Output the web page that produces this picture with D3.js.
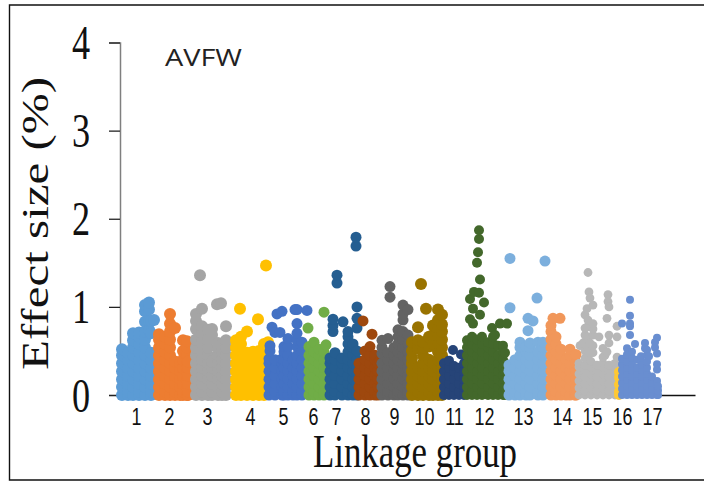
<!DOCTYPE html>
<html>
<head>
<meta charset="utf-8">
<script src="https://cdn.jsdelivr.net/npm/d3@7"></script>
<style>
  html, body { margin: 0; padding: 0; background: #fff; }
  svg { display: block; }
</style>
</head>
<body>
<div id="chart"></div>
<script>
// each row is [position along the genome, effect sizes at that position...]
var lg1 = [
  [2, 0,.09,.18,.27,.36,.45,.52],
  [8, 0,.04,.13,.22,.31,.40,.48],
  [13, 0,.09,.18,.27,.36,.45,.54,.62,.70],
  [19, 0,.04,.13,.22,.31,.40,.49,.58,.66,.71],
  [25, 0,.09,.18,.27,.36,.45,.54,.63,.72,.83,.95,1.02],
  [29, .74,.84,.97,1.05],
  [31, 0,.04,.13,.22,.31,.40,.48,.70,.84],
  [34, .85]
]
var lg2 = [
  [39, 0,.09,.18,.27,.36,.45,.54,.63,.69],
  [45, 0,.04,.13,.22,.31,.40,.49,.58,.66],
  [50, 0,.09,.18,.27,.36,.45,.54,.63,.72,.81,.92],
  [55, 0,.04,.13,.22,.31,.38,.76],
  [60, 0,.09,.18,.27,.36],
  [63, 0,.04,.13,.22,.31,.40,.50,.62],
  [67, 0,.09,.18,.27,.36,.45,.54,.61],
  [68, 0,.04,.13,.22,.31,.38]
]
var lg3 = [
  [76, 0,.09,.18,.27,.36,.45,.54,.63,.75,.84,.92],
  [80, 1.36],
  [82, 0,.04,.13,.22,.31,.40,.50,.60,.70,.78,.98],
  [88, 0,.09,.18,.27,.36,.45,.54,.62,.74],
  [92, 0,.04,.13,.22,.31,.38,.68,.75],
  [97, 1.03],
  [98, 0,.09,.18,.27,.36,.45,.53,.59],
  [101, 1.04],
  [102, 0,.04,.13,.22,.31,.40,.49,.58],
  [106, 0,.09,.18,.27,.36,.45,.54,.62,.78]
]
var lg4 = [
  [116, 0,.09,.18,.27,.36,.45,.54,.62],
  [120, .98],
  [121, 0,.04,.13,.22,.31,.40,.49,.58,.66],
  [127, 0,.09,.18,.27,.36,.45,.48,.72],
  [133, 0,.04,.13,.22,.31,.40,.49],
  [138, .86],
  [139, 0,.09,.18,.27,.36,.45,.50],
  [144, 0,.04,.13,.22,.31,.40,.49,.58],
  [146, 1.47],
  [148, .60]
]
var lg5 = [
  [149, 0,.09,.18,.27,.36,.41],
  [150, .50,.56],
  [152, .77],
  [155, 0,.04,.13,.22,.31,.40,.71],
  [157, .92],
  [160, .71],
  [162, 0,.09,.18,.27,.36,.41,.95],
  [164, 0,.04,.13,.22,.31,.40,.49,.55],
  [168, 0,.09,.18,.27,.36,.45,.55,.64],
  [173, 0,.04,.13,.22,.31,.40],
  [175, .97],
  [177, 0,.09,.18,.27,.36,.45,.55,.62,.70,.81,.97],
  [182, 0,.04,.13,.22,.31,.40,.50,.60],
  [187, .96]
]
var lg6 = [
  [188, .76],
  [189, 0,.09,.18,.27,.36,.45,.55],
  [194, 0,.04,.13,.22,.31,.40,.49,.60],
  [199, 0,.09,.18,.27,.36,.45,.52],
  [204, 0,.04,.13,.22,.31,.40,.49,.94],
  [206, .57]
]
var lg7 = [
  [210, 0,.09,.18,.27,.36,.42],
  [213, .72,.79,.86],
  [215, 0,.04,.13,.22,.31,.40,.48],
  [217, 1.27,1.36],
  [222, 0,.09,.18,.27,.36,.42],
  [223, .83],
  [228, 0,.04,.13,.22,.31,.40,.49,.58,.66,.72],
  [233, 0,.09,.18,.27,.36,.45,.54,.58],
  [236, 1.69,1.79],
  [237, 0,.04,.13,.22,.31,.40,.50,.76,.87,1.0]
]
var lg8 = [
  [239, 0,.09,.18,.27,.36],
  [243, .84],
  [245, 0,.04,.13,.22,.31,.40,.50],
  [250, 0,.09,.18,.27,.36,.45,.55],
  [252, .69],
  [255, 0,.04,.13,.22,.31,.40,.45],
  [258, 0,.09,.18,.27,.36],
  [260, .39]
]
var lg9 = [
  [262, 0,.09,.18,.27,.36,.47,.54,.62],
  [268, 0,.04,.13,.22,.31,.40,.48,.64],
  [270, 1.11,1.23],
  [274, 0,.09,.18,.27,.36,.45,.54],
  [278, 0,.04,.13,.22,.31,.40,.49,.58,.66,.74],
  [283, 0,.09,.18,.27,.36,.45,.54,.63,.72,.85,.92,1.02],
  [288, 0,.04,.13,.22,.31,.40,.49,.58,.68,.97]
]
var lg10 = [
  [292, 0,.09,.18,.27,.36,.42,.50,.60],
  [298, 0,.04,.13,.22,.31,.53,.62,.77],
  [301, 1.26],
  [303, 0,.09,.18,.27,.36,.45,.54,.60],
  [306, .98],
  [309, 0,.04,.13,.22,.31,.40,.55,.66],
  [313, 0,.09,.18,.27,.36,.58,.68,.79],
  [318, 0,.04,.13,.22,.31,.40,.49,.58,.67,.76,.85,.97],
  [322, 0,.09,.18,.27,.36,.45,.54,.63,.72,.80,.91]
]
var lg11 = [
  [324, 0,.09,.18,.27,.36],
  [329, 0,.04,.13,.22,.31,.39],
  [333, .51],
  [334, 0,.09,.18,.27,.33],
  [339, 0,.04,.13,.22,.31],
  [341, .46],
  [344, 0,.09,.18,.27,.36]
]
var lg12 = [
  [347, 0,.09,.18,.27,.36,.45,.54,.62],
  [350, 1.09,.86],
  [352, 0,.04,.13,.22,.31,.40,.49,.58,.66],
  [353, .98,.81],
  [354, 1.17],
  [357, 0,.09,.18,.27,.36,.45,.54,.63,1.50],
  [358, 1.62],
  [359, 1.16,1.77,1.87],
  [360, .91,1.31],
  [362, 0,.04,.13,.22,.31,.40,.49,.58,.66],
  [364, 1.05],
  [368, 0,.09,.18,.27,.36,.45,.54,.60],
  [372, .76],
  [373, 0,.04,.13,.22,.31,.40,.49,.58,.66],
  [375, .68],
  [378, 0,.09,.18,.27,.36,.45,.56],
  [380, .81],
  [383, 0,.04,.13,.22,.31,.40,.49,.56],
  [385, 0,.09,.18,.27,.36,.48],
  [387, .81]
]
var lg13 = [
  [389, 0,.09,.18,.27,.34],
  [390, .99,1.55],
  [395, 0,.04,.13,.22,.31,.40],
  [400, 0,.09,.18,.27,.36,.45,.54,.60],
  [406, 0,.04,.13,.22,.31,.40,.49,.55],
  [408, .73,.87],
  [410, 0,.09,.18,.27,.36,.45,.54,.59],
  [413, .84],
  [417, 1.10],
  [418, 0,.04,.13,.22,.31,.40,.49,.60],
  [423, 0,.09,.18,.27,.36,.45,.54,.60],
  [425, 1.52]
]
var lg14 = [
  [431, 0,.09,.18,.27,.36,.45,.54,.63,.72,.79],
  [433, .87],
  [436, 0,.04,.13,.22,.31,.40,.49,.58,.66],
  [440, .87],
  [441, 0,.09,.18,.27,.36,.45,.52],
  [446, 0,.04,.13,.22,.31,.40],
  [450, 0,.09,.18,.27,.36,.45,.52],
  [455, 0,.04,.13,.22,.31,.40,.45],
  [456, 0,.09,.18,.27,.36,.46]
]
var lg15 = [
  [459, 0,.08,.16,.24,.32,.36],
  [460, .56],
  [463, .59],
  [465, 0,.04,.12,.20,.28,.34,.42,.50,.68,.76,.91],
  [467, .55,.77,.98],
  [468, .44,.66,.85,1.39],
  [469, 1.17],
  [470, .48,.59,1.10],
  [471, 0,.08,.16,.24,.32,.38],
  [473, .48,.56,.68,.75,.81,1.02],
  [477, 0,.04,.12,.20,.28,.34],
  [479, .66],
  [483, 0,.08,.16,.24,.32,.36,.43,.53],
  [485, .45],
  [487, .49,.87],
  [488, 1.06,1.14],
  [489, 0,.04,.12,.20,.28,.34,.59,.68,1.0],
  [495, 0,.08,.16,.24,.32,.36],
  [497, .43,.66,.78]
]
var lg16 = [
  [499, 0,.04,.12,.20,.26]
]
var lg17 = [
  [502, 0,.07,.14,.21,.28,.35,.41,.81],
  [507, 0,.03,.10,.17,.24,.31,.38,.46,.53],
  [510, .68,.78,.81,.90,1.08],
  [512, 0,.07,.14,.21,.28,.35,.42,.49],
  [515, .58],
  [517, 0,.03,.10,.17,.24,.31,.40],
  [521, .38,.44],
  [522, 0,.07,.14,.21,.28,.34],
  [525, .53,.59],
  [527, 0,.03,.10,.17,.24,.31,.38,.45,.51],
  [529, .44],
  [532, 0,.07,.14,.21],
  [535, .54,.60],
  [537, 0,.03,.10,.16,.29,.35,.47,.65],
  [538, 0,.05,.10]
]
var linkageGroups = [lg1, lg2, lg3, lg4, lg5, lg6, lg7, lg8, lg9, lg10, lg11, lg12, lg13, lg14, lg15, lg16, lg17]

var groupLabels = ["1","2","3","4","5","6","7","8","9","10","11","12","13","14","15","16","17"]
var labelPositions = [16, 49, 87, 130, 163, 193, 216, 245, 274, 304, 334, 364, 403, 442, 472, 502, 532]
var effectTicks = [0, 1, 2, 3, 4]

var groupColors = ["#5b9bd5","#ed7d31","#a5a5a5","#ffc000","#4472c4","#70ad47","#255e91","#9e480e","#636363","#997300","#264478","#43682b","#7cafdd","#f1975a","#b7b7b7","#ffc832","#698ed0"]
var groupRadius = [6, 6, 6, 6, 5.5, 5.5, 5.5, 5.5, 5.5, 6, 5, 5, 5.5, 5.5, 4.4, 5, 4]

var width = 704, height = 481
var x0 = 120, y0 = 395, y1 = 42.5

var svg = d3.select("#chart").append("svg")
    .attr("width", width)
    .attr("height", height)

// outer frame, open on the right like the reference
svg.append("path")
    .attr("d", "M704,5H9.5V480H704")
    .attr("fill", "none")
    .attr("stroke", "#111")
    .attr("stroke-width", 1.4)

var x = d3.scaleLinear().domain([0, 575]).range([x0, 695])
var y = d3.scaleLinear().domain([0, 4]).range([y0, y1])

// X axis
var xAxis = d3.axisBottom(x)
    .tickValues(labelPositions)
    .tickFormat(function(d, i) { return groupLabels[i] })
    .tickSize(0)

var gx = svg.append("g")
    .attr("transform", "translate(0," + y0 + ")")
    .call(xAxis)
gx.select(".domain").attr("stroke", "#111").attr("stroke-width", 1.5)
gx.selectAll("text")
    .attr("y", 0)
    .attr("dy", 0)
    .attr("transform", "translate(0,30) scale(0.78,1)")
    .attr("font-family", "'Liberation Sans Narrow','Liberation Sans',sans-serif")
    .attr("font-size", 23)
    .attr("fill", "#111")

// Y axis
var yAxis = d3.axisLeft(y).tickValues(effectTicks).tickSize(11).tickFormat(d3.format("d"))
var gy = svg.append("g")
    .attr("transform", "translate(" + x0 + ",0)")
    .call(yAxis)
gy.select(".domain").attr("stroke", "#7f7f7f").attr("stroke-width", 1.5)
gy.selectAll("line").attr("stroke", "#222").attr("stroke-width", 1.3)
gy.selectAll("text")
    .attr("x", 0)
    .attr("dy", 0)
    .attr("text-anchor", "middle")
    .attr("transform", "translate(-39,16) scale(0.74,1)")
    .attr("font-family", "'Liberation Serif',serif")
    .attr("font-size", 49)
    .attr("fill", "#111")

// points, one group at a time so later groups sit on top
linkageGroups.forEach(function(group, i) {
    var points = []
    group.forEach(function(row) {
        row.slice(1).forEach(function(v) {
            points.push({pos: row[0], val: v})
        })
    })
    svg.append("g")
        .attr("fill", groupColors[i])
      .selectAll("circle")
      .data(points)
      .enter()
      .append("circle")
        .attr("cx", function(d) { return x(d.pos) })
        .attr("cy", function(d) { return y(d.val) })
        .attr("r", groupRadius[i])
})

svg.append("text")
    .attr("x", 165)
    .attr("y", 66)
    .attr("textLength", 77)
    .attr("lengthAdjust", "spacingAndGlyphs")
    .attr("font-family", "'Open Sans',sans-serif")
    .attr("font-size", 24)
    .attr("fill", "#222")
    .text("AVFW")

svg.append("text")
    .attr("transform", "translate(48,370) rotate(-90)")
    .attr("textLength", 293)
    .attr("lengthAdjust", "spacingAndGlyphs")
    .attr("font-family", "'Liberation Serif',serif")
    .attr("font-size", 38)
    .attr("fill", "#111")
    .text("Effect size (%)")

svg.append("text")
    .attr("x", 313)
    .attr("y", 467)
    .attr("textLength", 204)
    .attr("lengthAdjust", "spacingAndGlyphs")
    .attr("font-family", "'Liberation Serif',serif")
    .attr("font-size", 47)
    .attr("fill", "#111")
    .text("Linkage group")
</script>
</body>
</html>
